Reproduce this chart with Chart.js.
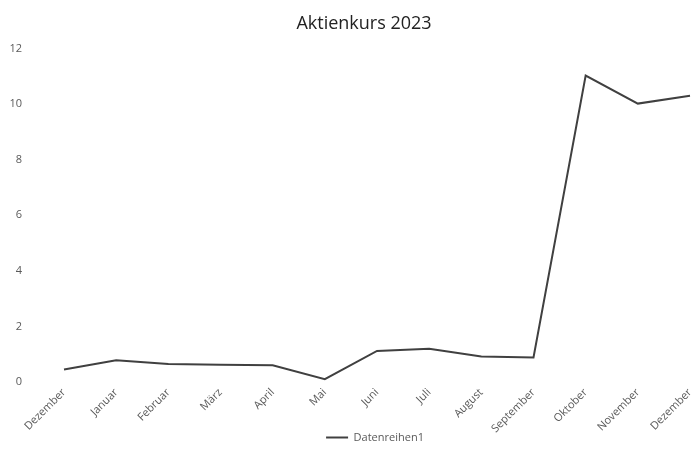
<!DOCTYPE html>
<html>
<head>
<meta charset="utf-8">
<script src="https://cdn.jsdelivr.net/npm/chart.js@4/dist/chart.umd.min.js"></script>
<style>
  html, body { margin: 0; padding: 0; background: #fff; }
  #wrap { width: 692px; height: 470px; }
</style>
</head>
<body>
<div id="wrap"><canvas id="chart"></canvas></div>
<script>
const months = ['Dezember', 'Januar', 'Februar', 'März', 'April', 'Mai', 'Juni',
  'Juli', 'August', 'September', 'Oktober', 'November', 'Dezember'];
const kurs = [0.45, 0.78, 0.65, 0.62, 0.6, 0.1, 1.12, 1.2, 0.92, 0.88, 11.03, 10.02, 10.3];
const yTicks = [0, 2, 4, 6, 8, 10, 12];

const gray = '#595959';

// title and legend sit a bit right of the canvas centre in the original
const shiftBlocks = {
  id: 'shiftBlocks',
  afterLayout(chart) {
    chart.titleBlock.left += 38;
    chart.legend.left += 30;
    chart.legend.right += 30;
    chart.legend.top -= 8;
    chart.legend.bottom -= 8;
  }
};

new Chart(document.getElementById('chart').getContext('2d'), {
  type: 'line',
  data: {
    labels: months,
    datasets: [{
      label: 'Datenreihen1',
      data: kurs,
      borderColor: '#404040',
      backgroundColor: '#404040',
      borderWidth: 2,
      fill: false,
      tension: 0,
      pointRadius: 0,
      pointStyle: 'line',
    }]
  },
  options: {
    responsive: true,
    maintainAspectRatio: false,
    animation: false,
    layout: { padding: { left: 0, right: 2, top: 8, bottom: 9 } },
    plugins: {
      title: {
        display: true,
        text: 'Aktienkurs 2023',
        color: '#222',
        font: { family: 'Open Sans', size: 18, weight: 'normal' },
        padding: { top: 0, bottom: 14 }
      },
      legend: {
        display: true,
        position: 'bottom',
        labels: {
          usePointStyle: true,
          pointStyleWidth: 22,
          color: gray,
          font: { family: 'Open Sans', size: 11 },
          padding: 4
        }
      },
      tooltip: { enabled: false }
    },
    scales: {
      x: {
        offset: false,
        grid: { display: false, drawTicks: false },
        border: { display: false },
        afterFit: axis => {
          axis.paddingLeft = 0;
          axis.paddingRight = 0;
          axis.height = 54;
        },
        ticks: {
          color: gray,
          font: { family: 'Open Sans', size: 11 },
          maxRotation: 45,
          minRotation: 45,
          autoSkip: false,
          padding: 4
        }
      },
      y: {
        min: 0,
        max: 12,
        afterBuildTicks: axis => { axis.ticks = yTicks.map(v => ({ value: v })); },
        afterFit: axis => { axis.width = 64; },
        grid: { display: false, drawTicks: false },
        border: { display: false },
        ticks: {
          color: gray,
          font: { family: 'Open Sans', size: 11 },
          padding: 42
        }
      }
    }
  },
  plugins: [shiftBlocks]
});
</script>
</body>
</html>
